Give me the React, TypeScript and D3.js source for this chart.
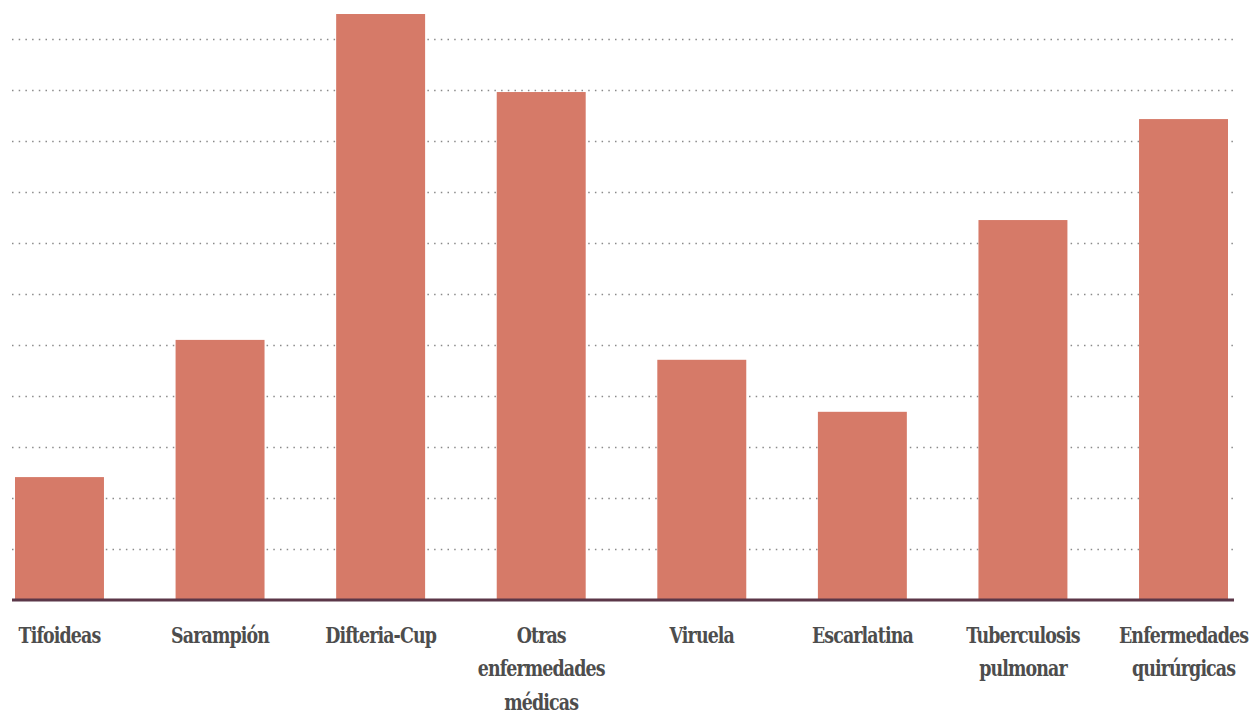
import React from "react";
import * as d3 from "d3";

const categories: string[][] = [
  ["Tifoideas"],
  ["Sarampión"],
  ["Difteria-Cup"],
  ["Otras", "enfermedades", "médicas"],
  ["Viruela"],
  ["Escarlatina"],
  ["Tuberculosis", "pulmonar"],
  ["Enfermedades", "quirúrgicas"],
];
const values: number[] = [24.1, 51.0, 114.9, 99.6, 47.1, 36.9, 74.5, 94.3];
const gridTicks: number[] = [10, 20, 30, 40, 50, 60, 70, 80, 90, 100, 110];

const W = 1250;
const H = 715;
const baseY = 600;

export default function App() {
  const x = d3
    .scaleBand<number>()
    .domain(values.map((_, i) => i))
    .range([15, 1228])
    .paddingInner(0.446)
    .paddingOuter(0);
  const y = d3.scaleLinear().domain([0, 110]).range([baseY, 39]);

  return (
    <svg
      width={W}
      height={H}
      style={{ position: "absolute", left: 0, top: 0, background: "#fff" }}
    >
      <g>
        {gridTicks.map((t) => (
          <line
            key={t}
            x1={12}
            x2={1237}
            y1={Math.round(y(t)) + 0.5}
            y2={Math.round(y(t)) + 0.5}
            stroke="#8a8a8a"
            strokeWidth={1.5}
            strokeDasharray="1.5,5.2"
          />
        ))}
      </g>
      <g>
        {values.map((v, i) => (
          <rect
            key={i}
            x={x(i)}
            y={y(v)}
            width={x.bandwidth()}
            height={baseY - y(v)}
            fill="#d67a68"
          />
        ))}
      </g>
      <line x1={12} x2={1234} y1={baseY} y2={baseY} stroke="#5b3748" strokeWidth={3} />
      <g>
        {categories.map((lines, i) => (
          <text
            key={i}
            transform={`translate(${(x(i) as number) + x.bandwidth() / 2},643) scale(0.88,1)`}
            textAnchor="middle"
            style={{
              fontFamily: "'DejaVu Serif Condensed', 'DejaVu Serif', serif",
              fontWeight: 700,
              fontStretch: "condensed",
              fontSize: "22px",
              letterSpacing: "-1px",
            }}
            fill="#4d4d4d"
          >
            {lines.map((l, j) => (
              <tspan key={j} x={0} dy={j === 0 ? 0 : 33.5}>
                {l}
              </tspan>
            ))}
          </text>
        ))}
      </g>
    </svg>
  );
}
